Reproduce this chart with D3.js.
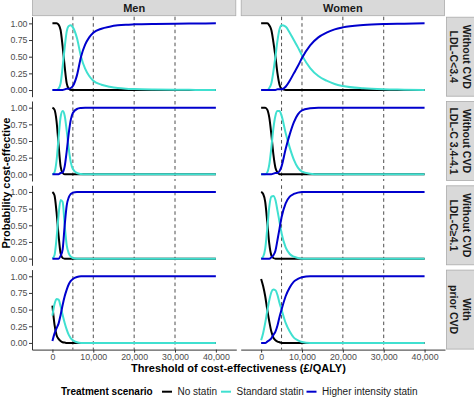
<!DOCTYPE html>
<html>
<head>
<meta charset="utf-8">
<script src="https://cdn.jsdelivr.net/npm/d3@7"></script>
<style>
  body { margin: 0; background: #fff; }
  text { font-family: "Liberation Sans", Arial, sans-serif; }
</style>
</head>
<body>
<div id="chart"></div>
<script>
// thresholds of cost-effectiveness (£/QALY)
const thresholds = [0, 500, 1000, 1500, 2000, 2500, 3000, 3500, 4000, 4500, 5000, 6000, 7000, 8000, 9000, 10000, 12000, 14000, 16000, 18000, 20000, 25000, 30000, 35000, 40000];

const sexes = ['Men', 'Women'];
const groups = [
    ['Without CVD', 'LDL-C<3.4'],
    ['Without CVD', 'LDL-C 3.4-4.1'],
    ['Without CVD', 'LDL-C\u22654.1'],
    ['With', 'prior CVD']
];
const scenarios = ['No statin', 'Standard statin', 'Higher intensity statin'];
const xTicks = [0, 10000, 20000, 30000, 40000];
const yTicks = [0, 0.25, 0.5, 0.75, 1];
const refLines = [5000, 10000, 20000, 30000];

// men
const menLowNo = [1, 1, 1, 0.98, 0.9, 0.65, 0.35, 0.1, 0.02, 0, 0, 0, 0, 0, 0, 0, 0, 0, 0, 0, 0, 0, 0, 0, 0];
const menLowStd = [0, 0, 0, 0.02, 0.1, 0.35, 0.64, 0.88, 0.96, 0.97, 0.94, 0.78, 0.5, 0.32, 0.21, 0.14, 0.08, 0.05, 0.03, 0.02, 0.015, 0.008, 0.004, 0.002, 0];
const menLowHigh = [0, 0, 0, 0, 0, 0, 0.01, 0.02, 0.02, 0.03, 0.06, 0.22, 0.5, 0.68, 0.79, 0.86, 0.92, 0.95, 0.97, 0.98, 0.985, 0.992, 0.996, 0.998, 1];

const menMidNo = [1, 0.97, 0.8, 0.45, 0.12, 0.02, 0, 0, 0, 0, 0, 0, 0, 0, 0, 0, 0, 0, 0, 0, 0, 0, 0, 0, 0];
const menMidStd = [0, 0.03, 0.2, 0.55, 0.86, 0.95, 0.88, 0.65, 0.38, 0.18, 0.08, 0.02, 0.005, 0, 0, 0, 0, 0, 0, 0, 0, 0, 0, 0, 0];
const menMidHigh = [0, 0, 0, 0, 0.02, 0.03, 0.12, 0.35, 0.62, 0.82, 0.92, 0.98, 0.995, 1, 1, 1, 1, 1, 1, 1, 1, 1, 1, 1, 1];

const menHighNo = [1, 0.95, 0.7, 0.35, 0.08, 0.01, 0, 0, 0, 0, 0, 0, 0, 0, 0, 0, 0, 0, 0, 0, 0, 0, 0, 0, 0];
const menHighStd = [0, 0.05, 0.3, 0.65, 0.88, 0.85, 0.5, 0.2, 0.08, 0.03, 0.01, 0, 0, 0, 0, 0, 0, 0, 0, 0, 0, 0, 0, 0, 0];
const menHighHigh = [0, 0, 0, 0, 0.04, 0.14, 0.5, 0.8, 0.92, 0.97, 0.99, 1, 1, 1, 1, 1, 1, 1, 1, 1, 1, 1, 1, 1, 1];

const menCvdNo = [0.56, 0.28, 0.12, 0.06, 0.03, 0.01, 0.005, 0, 0, 0, 0, 0, 0, 0, 0, 0, 0, 0, 0, 0, 0, 0, 0, 0, 0];
const menCvdStd = [0.41, 0.58, 0.66, 0.65, 0.55, 0.42, 0.3, 0.2, 0.12, 0.07, 0.04, 0.01, 0, 0, 0, 0, 0, 0, 0, 0, 0, 0, 0, 0, 0];
const menCvdHigh = [0.03, 0.14, 0.22, 0.29, 0.42, 0.57, 0.7, 0.8, 0.88, 0.93, 0.96, 0.99, 1, 1, 1, 1, 1, 1, 1, 1, 1, 1, 1, 1, 1];

// women
const womenLowNo = [1, 1, 1, 1, 0.97, 0.9, 0.72, 0.5, 0.25, 0.08, 0.02, 0, 0, 0, 0, 0, 0, 0, 0, 0, 0, 0, 0, 0, 0];
const womenLowStd = [0, 0, 0, 0, 0.03, 0.1, 0.28, 0.5, 0.74, 0.91, 0.97, 0.95, 0.86, 0.75, 0.64, 0.52, 0.33, 0.21, 0.14, 0.09, 0.06, 0.025, 0.01, 0.005, 0];
const womenLowHigh = [0, 0, 0, 0, 0, 0, 0, 0, 0.01, 0.01, 0.01, 0.05, 0.14, 0.25, 0.36, 0.48, 0.67, 0.79, 0.86, 0.91, 0.94, 0.975, 0.99, 0.995, 1];

const womenMidNo = [1, 1, 1, 0.97, 0.85, 0.6, 0.3, 0.1, 0.03, 0, 0, 0, 0, 0, 0, 0, 0, 0, 0, 0, 0, 0, 0, 0, 0];
const womenMidStd = [0, 0, 0, 0.03, 0.15, 0.4, 0.69, 0.88, 0.95, 0.95, 0.88, 0.62, 0.4, 0.22, 0.1, 0.04, 0.01, 0, 0, 0, 0, 0, 0, 0, 0];
const womenMidHigh = [0, 0, 0, 0, 0, 0, 0.01, 0.02, 0.02, 0.05, 0.12, 0.38, 0.6, 0.78, 0.9, 0.96, 0.99, 1, 1, 1, 1, 1, 1, 1, 1];

const womenHighNo = [1, 0.97, 0.85, 0.55, 0.22, 0.05, 0.01, 0, 0, 0, 0, 0, 0, 0, 0, 0, 0, 0, 0, 0, 0, 0, 0, 0, 0];
const womenHighStd = [0, 0.03, 0.15, 0.45, 0.78, 0.93, 0.94, 0.88, 0.72, 0.55, 0.38, 0.17, 0.07, 0.03, 0.01, 0, 0, 0, 0, 0, 0, 0, 0, 0, 0];
const womenHighHigh = [0, 0, 0, 0, 0, 0.02, 0.05, 0.12, 0.28, 0.45, 0.62, 0.83, 0.93, 0.97, 0.99, 1, 1, 1, 1, 1, 1, 1, 1, 1, 1];

const womenCvdNo = [0.96, 0.85, 0.7, 0.5, 0.32, 0.17, 0.08, 0.04, 0.02, 0.01, 0, 0, 0, 0, 0, 0, 0, 0, 0, 0, 0, 0, 0, 0, 0];
const womenCvdStd = [0.04, 0.15, 0.3, 0.48, 0.64, 0.76, 0.8, 0.79, 0.72, 0.6, 0.5, 0.3, 0.17, 0.08, 0.04, 0.015, 0, 0, 0, 0, 0, 0, 0, 0, 0];
const womenCvdHigh = [0, 0, 0, 0.02, 0.04, 0.07, 0.12, 0.17, 0.26, 0.39, 0.5, 0.7, 0.83, 0.92, 0.96, 0.985, 1, 1, 1, 1, 1, 1, 1, 1, 1];

// panels[sex][group] = [no, std, high]
const panels = [
    [
        [menLowNo, menLowStd, menLowHigh],
        [menMidNo, menMidStd, menMidHigh],
        [menHighNo, menHighStd, menHighHigh],
        [menCvdNo, menCvdStd, menCvdHigh]
    ],
    [
        [womenLowNo, womenLowStd, womenLowHigh],
        [womenMidNo, womenMidStd, womenMidHigh],
        [womenHighNo, womenHighStd, womenHighHigh],
        [womenCvdNo, womenCvdStd, womenCvdHigh]
    ]
];

const colors = ['#000000', '#40E0D0', '#0000CD'];

const W = 474, H = 397;
const colLeft = [32, 240.7];
const panelW = 204.3;
const rowTop = [16.7, 101, 185.3, 269.6];
const panelH = 80;

const x = d3.scaleLinear().domain([-5000, 45000]).range([0, panelW]);
const y = d3.scaleLinear().domain([-0.1, 1.1]).range([panelH, 0]);

const line = d3.line()
    .x((d, i) => x(thresholds[i]))
    .y(d => y(d))
    .curve(d3.curveMonotoneX);

const svg = d3.select('#chart')
    .append('svg')
    .attr('width', W)
    .attr('height', H);

svg.append('rect').attr('width', W).attr('height', H).attr('fill', '#fff');

// top strips
sexes.forEach((s, c) => {
    svg.append('rect')
        .attr('x', colLeft[c] + 0.5).attr('y', -1)
        .attr('width', panelW - 1).attr('height', 16.7)
        .attr('fill', '#d9d9d9').attr('stroke', '#ababab').attr('stroke-width', 0.8);
    svg.append('text')
        .attr('x', colLeft[c] + panelW / 2).attr('y', 8)
        .attr('text-anchor', 'middle').attr('dominant-baseline', 'central')
        .attr('font-size', 11).attr('font-weight', 'bold').attr('fill', '#1a1a1a')
        .text(s);
});

// right strips
groups.forEach((g, r) => {
    const cx = 460.5, cy = rowTop[r] + panelH / 2;
    svg.append('rect')
        .attr('x', 446.5).attr('y', rowTop[r] + 0.5)
        .attr('width', 31).attr('height', panelH - 1)
        .attr('fill', '#d9d9d9').attr('stroke', '#ababab').attr('stroke-width', 0.8);
    const t = svg.append('text')
        .attr('transform', `translate(${cx},${cy}) rotate(90)`)
        .attr('text-anchor', 'middle')
        .attr('font-size', 10.5).attr('font-weight', 'bold').attr('fill', '#1a1a1a');
    g.forEach((l, k) => {
        t.append('tspan')
            .attr('x', 0).attr('y', k === 0 ? -6.7 : 6.7)
            .attr('dominant-baseline', 'central')
            .text(l);
    });
});

// panels
sexes.forEach((s, c) => {
    groups.forEach((grp, r) => {
        const g = svg.append('g')
            .attr('transform', `translate(${colLeft[c]},${rowTop[r]})`);

        g.selectAll('.ref')
            .data(refLines)
            .enter()
            .append('line')
            .attr('x1', d => x(d)).attr('x2', d => x(d))
            .attr('y1', 0).attr('y2', panelH)
            .attr('stroke', '#3a3a3a')
            .attr('stroke-width', 0.9)
            .attr('stroke-dasharray', '3.5,3');

        panels[c][r].forEach((vals, k) => {
            g.append('path')
                .datum(vals)
                .attr('fill', 'none')
                .attr('stroke', colors[k])
                .attr('stroke-width', 2)
                .attr('d', line);
        });

        if (c === 0) {
            const ya = g.append('g')
                .call(d3.axisLeft(y)
                    .tickValues(yTicks)
                    .tickFormat(d3.format('.2f'))
                    .tickSize(3)
                    .tickSizeOuter(0)
                    .tickPadding(1.5));
            ya.select('.domain').attr('stroke', '#333');
            ya.selectAll('.tick line').attr('stroke', '#333');
            ya.selectAll('.tick text')
                .attr('fill', '#4d4d4d')
                .attr('font-size', 8.8)
                .attr('font-family', '"Liberation Sans", Arial, sans-serif');
        }
        if (r === groups.length - 1) {
            const xa = g.append('g')
                .attr('transform', `translate(0,${panelH})`)
                .call(d3.axisBottom(x)
                    .tickValues(xTicks)
                    .tickFormat(d3.format(','))
                    .tickSize(3)
                    .tickSizeOuter(0)
                    .tickPadding(1.5));
            xa.select('.domain').attr('stroke', '#333');
            xa.selectAll('.tick line').attr('stroke', '#333');
            xa.selectAll('.tick text')
                .attr('fill', '#4d4d4d')
                .attr('font-size', 8.8)
                .attr('font-family', '"Liberation Sans", Arial, sans-serif');
        }
    });
});

// axis titles
svg.append('text')
    .attr('x', 238.5).attr('y', 372)
    .attr('text-anchor', 'middle')
    .attr('font-size', 11).attr('font-weight', 'bold')
    .text('Threshold of cost-effectiveness (\u00a3/QALY)');

svg.append('text')
    .attr('transform', `translate(10,${(rowTop[0] + rowTop[3] + panelH) / 2}) rotate(-90)`)
    .attr('text-anchor', 'middle')
    .attr('font-size', 11).attr('font-weight', 'bold')
    .text('Probability cost-effective');

// legend
const legY = 391.7;
svg.append('text')
    .attr('x', 61).attr('y', legY)
    .attr('dominant-baseline', 'central')
    .attr('font-size', 10).attr('font-weight', 'bold')
    .text('Treatment scenario');
const keyX = [162, 221, 306.5];
scenarios.forEach((s, k) => {
    svg.append('line')
        .attr('x1', keyX[k]).attr('x2', keyX[k] + 10)
        .attr('y1', legY).attr('y2', legY)
        .attr('stroke', colors[k]).attr('stroke-width', 2);
    svg.append('text')
        .attr('x', keyX[k] + 15.5).attr('y', legY)
        .attr('dominant-baseline', 'central')
        .attr('font-size', 10).attr('fill', '#1a1a1a')
        .text(s);
});
</script>
</body>
</html>
